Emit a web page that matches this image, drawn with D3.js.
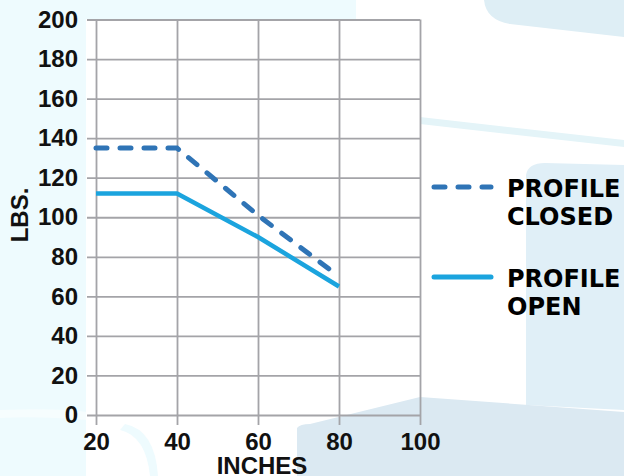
<!DOCTYPE html>
<html lang="en">
<head>
<meta charset="utf-8">
<title>Profile load chart</title>
<script src="https://d3js.org/d3.v7.min.js"></script>
<style>
body { margin: 0; background: #ffffff; }
svg { display: block; }
.tick text { font-family: "Liberation Sans", Arial, sans-serif; font-weight: bold; font-size: 24px; fill: #111; }
.tick line { stroke: #a4a4a8; stroke-width: 1.8; }
.title { font-family: "Liberation Sans", Arial, sans-serif; font-weight: bold; font-size: 24px; fill: #111; }
.legend text { font-family: "DejaVu Sans", sans-serif; font-weight: bold; font-size: 24px; fill: #000; }
</style>
</head>
<body>
<div id="chart"></div>
<script>
// data
var inches = [20, 40, 60, 80];
var closedLbs = [135, 135, 101, 70];
var openLbs = [112, 112, 90, 65];
var xTicks = [20, 40, 60, 80, 100];
var yTicks = [0, 20, 40, 60, 80, 100, 120, 140, 160, 180, 200];
var seriesNames = [["PROFILE", "CLOSED"], ["PROFILE", "OPEN"]];

var W = 624, H = 476;
// plot box (note: "top" is taken by window.top, so prefixed names)
var plotL = 96, plotR = 420, plotT = 19.5, plotB = 415;

var svg = d3.select("#chart").append("svg")
	.attr("width", W)
	.attr("height", H);

// faint background shapes
var bg = svg.append("g");
bg.append("rect").attr("x", 0).attr("y", 0).attr("width", 86).attr("height", H).attr("fill", "#eefbfe");
bg.append("rect").attr("x", 86).attr("y", 0).attr("width", 270).attr("height", 19).attr("fill", "#eefbfe");
bg.append("path").attr("d", "M484,0 L624,0 L624,37 L510,24 Q486,20 484,0 Z").attr("fill", "#deeef5");
bg.append("path").attr("d", "M420,117 L624,140 L624,147 L420,124 Z").attr("fill", "#e4f4f8");
bg.append("path").attr("d", "M526,175 Q528,163 545,163 L624,165 L624,410 L526,405 Z").attr("fill", "#e0eff7");
bg.append("path").attr("d", "M297,476 L297,428 Q300,424 310,424 L420,397 L624,412 L624,476 Z").attr("fill", "#dbe9f2");
bg.append("path").attr("d", "M0,410 Q60,408 86,412 L86,420 Q40,416 0,418 Z").attr("fill", "#f6fdfe");
bg.append("path").attr("d", "M125,424 Q155,430 158,476 L150,476 Q146,436 120,430 Z").attr("fill", "#eefbfe");

var x = d3.scaleLinear().domain([20, 100]).range([plotL, plotR]);
var y = d3.scaleLinear().domain([0, 200]).range([plotB, plotT]);

// y grid + labels
var yAxis = svg.append("g")
	.attr("transform", "translate(" + plotL + ",0)")
	.call(d3.axisLeft(y).tickValues(yTicks).tickSizeInner(-(plotR - plotL)).tickSizeOuter(0).tickPadding(18));
yAxis.select(".domain").remove();
yAxis.selectAll(".tick line").attr("x1", -9);

// x grid + labels
var xAxis = svg.append("g")
	.attr("transform", "translate(0," + plotB + ")")
	.call(d3.axisBottom(x).tickValues(xTicks).tickSizeInner(-(plotB - plotT)).tickSizeOuter(0).tickPadding(18));
xAxis.select(".domain").remove();
xAxis.selectAll(".tick line").attr("y1", 10);

// axis titles
svg.append("text").attr("class", "title")
	.attr("transform", "translate(28,215) rotate(-90)")
	.attr("text-anchor", "middle")
	.text("LBS.");
svg.append("text").attr("class", "title")
	.attr("x", 262).attr("y", 474)
	.attr("text-anchor", "middle")
	.text("INCHES");

var line = d3.line()
	.x(function(d) { return x(d[0]); })
	.y(function(d) { return y(d[1]); });

svg.append("path")
	.datum(d3.zip(inches, openLbs))
	.attr("d", line)
	.attr("fill", "none")
	.attr("stroke", "#1ba4de")
	.attr("stroke-width", 4.5)
	.attr("stroke-linejoin", "round");

svg.append("path")
	.datum(d3.zip(inches, closedLbs))
	.attr("d", line)
	.attr("fill", "none")
	.attr("stroke", "#2f74b6")
	.attr("stroke-width", 5)
	.attr("stroke-dasharray", "11,13")
	.attr("stroke-linecap", "round");

// legend
var legend = svg.append("g").attr("class", "legend");
var styles = [
	{ stroke: "#2f74b6", dash: "11,13", width: 5, y: 187 },
	{ stroke: "#1ba4de", dash: null, width: 5, y: 277 }
];
styles.forEach(function(s, i) {
	legend.append("line")
		.attr("x1", 434).attr("x2", 491)
		.attr("y1", s.y).attr("y2", s.y)
		.attr("stroke", s.stroke)
		.attr("stroke-width", s.width)
		.attr("stroke-linecap", "round")
		.attr("stroke-dasharray", s.dash);
	var t = legend.append("text").attr("x", 507).attr("y", s.y + 10);
	seriesNames[i].forEach(function(word, j) {
		t.append("tspan").attr("x", 507).attr("dy", j === 0 ? 0 : 28).text(word);
	});
});
</script>
</body>
</html>
